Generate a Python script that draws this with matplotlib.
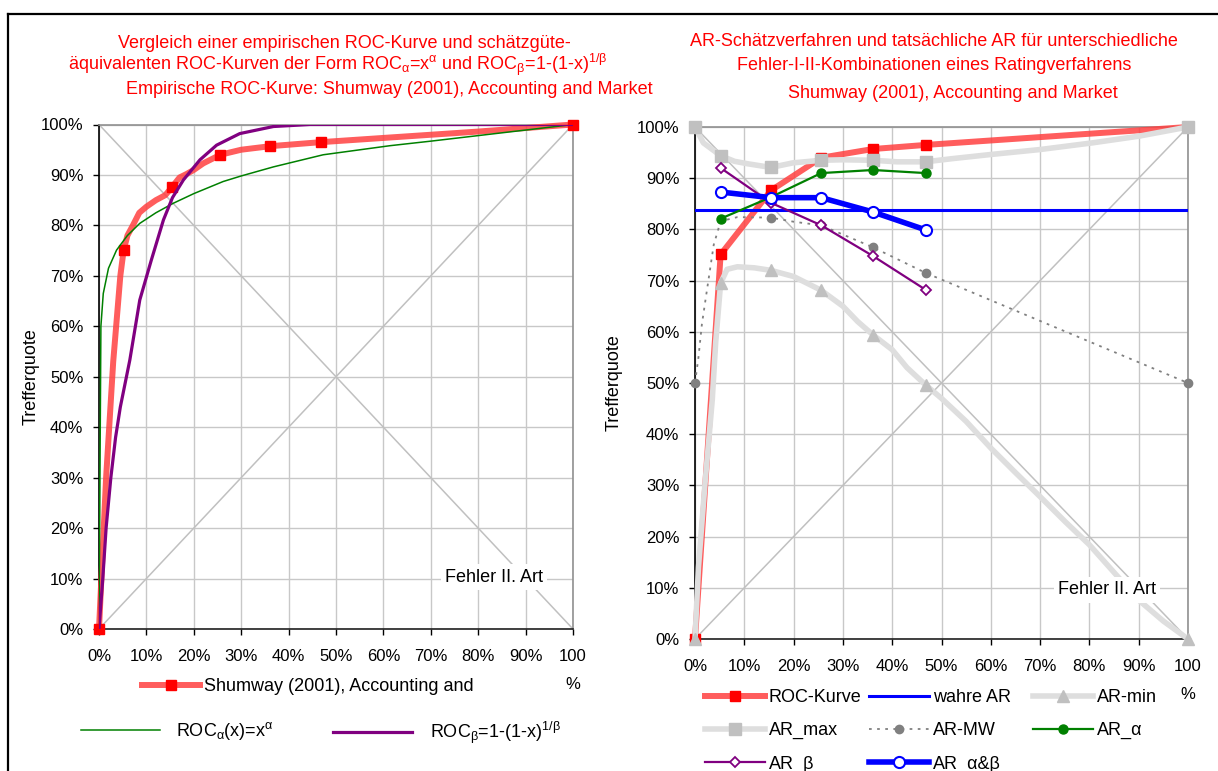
import matplotlib
matplotlib.use("Agg")
import matplotlib.pyplot as plt
from matplotlib.lines import Line2D

plt.rcParams['font.family'] = ['Liberation Sans', 'DejaVu Sans']
plt.rcParams['mathtext.fontset'] = 'custom'
plt.rcParams['mathtext.rm'] = 'Liberation Sans'
plt.rcParams['mathtext.it'] = 'Liberation Sans'
plt.rcParams['mathtext.bf'] = 'Liberation Sans:bold'

# ---- data (all in %) ----
fehler_x = [5.2, 15.4, 25.6, 36.1, 46.8]          # Fehler II. Art at the rating cut-offs
roc_y = [75.1, 87.6, 94.0, 95.7, 96.5]            # Trefferquote at the cut-offs

# empirical ROC curve (left chart)
emp_x = [0, 0.5, 1.5, 3.0, 4.5, 5.2, 6.0, 7.2, 8.5, 10.0, 12.0, 14.0, 15.4, 17.0, 18.5,
         20.0, 22.0, 25.6, 30.0, 36.1, 46.8, 61.0, 80.0, 100]
emp_y = [0, 10, 30, 53, 70, 75.1, 78, 80.1, 82.5, 83.7, 85, 86, 87.6, 89.5, 90.2,
         91, 92.3, 94.0, 95.0, 95.7, 96.5, 97.4, 98.6, 100]
emp_marks = [0, 5, 12, 17, 19, 20, 23]

alpha_x = [0, 0.2, 0.4, 0.9, 2.0, 3.7, 6.0, 8.6, 12.0, 15.7, 20.0, 26.2, 30.0, 36.8,
           47.3, 61.4, 70.0, 80.0, 90.0, 100]
alpha_y = [0, 30, 60, 66.5, 71.5, 75.1, 78.0, 80.4, 82.5, 84.4, 86.3, 88.7, 89.8, 91.6,
           94.0, 95.8, 96.7, 97.8, 98.9, 100]

beta_x = [0, 0.8, 1.5, 2.5, 3.5, 4.5, 6.5, 8.6, 11.0, 13.6, 15.5, 17.8, 21.3, 24.8,
          29.7, 36.8, 44.5, 100]
beta_y = [0, 10, 20, 30, 38, 44, 53.3, 65.2, 73.0, 81.1, 85.5, 89.0, 93.0, 95.9,
          98.2, 99.6, 100, 100]

# right chart
wahre_ar = 83.8
armin_x = [0, 0.7, 2.0, 3.5, 4.2, 5.2, 6.5, 8.6, 12.0, 15.4, 20.0, 25.6, 30.0, 33.0, 36.1,
           40.0, 43.0, 46.8, 50.0, 55.0, 60.0, 65.0, 70.0, 75.0, 80.0, 85.0, 90.0, 95.0, 100]
armin_y = [0, 14, 30, 46.7, 58, 69.5, 72.2, 72.7, 72.5, 72.0, 70.8, 68.1, 65, 62, 59.4,
           56.5, 53, 49.6, 47, 42.5, 37.3, 32.5, 27.8, 23, 18.4, 13, 7.6, 3.5, 0]
armin_marks = [0, 5, 9, 11, 14, 17, 28]

armax_x = [0, 1.7, 5.2, 8.0, 10.8, 15.4, 19.9, 25.6, 30, 36.1, 41, 46.8, 52, 59.7, 70,
           80.6, 90, 100]
armax_y = [100, 96.9, 94.4, 93.3, 92.8, 92.1, 93.0, 93.5, 93.6, 93.5, 93.2, 93.2, 93.8,
           94.6, 95.6, 96.9, 98.2, 100]
armax_marks = [0, 2, 5, 7, 9, 11, 17]

armw_x = [0, 0.7, 1.4, 2.4, 3.8, 5.2, 8.6, 15.4, 20, 25.6, 36.1, 46.8, 100]
armw_y = [50, 55, 61.5, 68, 77, 81.6, 82.4, 82.3, 81.5, 80.8, 76.5, 71.5, 50]
armw_marks = [0, 7, 9, 10, 11, 12]

ar_alpha = [82.1, 86.3, 91.0, 91.6, 91.0]
ar_beta = [92.0, 85.2, 80.8, 74.8, 68.2]
ar_ab = [87.3, 86.2, 86.2, 83.4, 79.9]

ticks = list(range(0, 101, 10))
xticklabels = [f"{t}%" for t in ticks[:-1]] + ["100\n%"]
yticklabels = [f"{t}%" for t in ticks]

W, H = 1218, 771
FS = 12      # tick labels
FS_T = 13    # titles, legend, notes
fig = plt.figure(figsize=(W / 100, H / 100), dpi=100)

RED_LINE = (1.0, 0.25, 0.25, 0.85)


def style_axes(ax, label_x):
    ax.set_xlim(0, 100)
    ax.set_ylim(0, 100)
    ax.set_xticks(ticks)
    ax.set_yticks(ticks)
    ax.set_xticklabels(xticklabels, fontsize=FS, linespacing=2.1)
    ax.set_yticklabels(yticklabels, fontsize=FS)
    ax.tick_params(axis='y', direction='out', length=4.3, width=1, pad=7)
    ax.tick_params(axis='x', direction='out', length=4.3, width=1, pad=10)
    ax.grid(True, color='#c8c8c8', linewidth=1)
    ax.set_axisbelow(True)
    ax.spines['left'].set_color('black')
    ax.spines['bottom'].set_color('#202020')
    ax.spines['top'].set_color('#909090')
    ax.spines['right'].set_color('#909090')
    for s in ax.spines.values():
        s.set_linewidth(1.2)
    # both diagonals
    ax.plot([0, 100], [100, 0], color='#c0c0c0', lw=1.1, zorder=1)
    ax.plot([0, 100], [0, 100], color='#c0c0c0', lw=1.1, zorder=1)
    ax.set_ylabel('Trefferquote', fontsize=FS_T)
    ax.yaxis.set_label_coords(label_x, 0.5)


# ---------------- left chart ----------------
ax1 = fig.add_axes([99 / W, 1 - 629 / H, 474 / W, 504.5 / H])
style_axes(ax1, (40 - 99) / 474)
l_emp, = ax1.plot(emp_x, emp_y, color=RED_LINE, lw=4.3, marker='s', ms=7,
                  mfc='red', mec='red', markevery=emp_marks, zorder=3, clip_on=False,
                  label='Shumway (2001), Accounting and')
l_alpha, = ax1.plot(alpha_x, alpha_y, color='#008000', lw=1.1, zorder=4,
                    label=r'ROC$_{\alpha}$(x)=x$^{\alpha}$')
l_beta, = ax1.plot(beta_x, beta_y, color='#800080', lw=2.3, zorder=4,
                   label=r'ROC$_{\beta}$=1-(1-x)$^{1/\beta}$')
ax1.text(83.3, 10.3, 'Fehler II. Art', fontsize=FS_T, ha='center', va='center',
         bbox=dict(facecolor='white', edgecolor='none', pad=3), zorder=5)

# ---------------- right chart ----------------
ax2 = fig.add_axes([695 / W, 1 - 639 / H, 493 / W, 512 / H])
style_axes(ax2, (623 - 695) / 493)
h_roc, = ax2.plot([0] + fehler_x + [100], [0] + roc_y + [100], color=RED_LINE, lw=4.3,
                  marker='s', ms=7, mfc='red', mec='red', zorder=3, clip_on=False,
                  label='ROC-Kurve')
h_true = ax2.axhline(wahre_ar, color='#0000ff', lw=2.2, zorder=3, label='wahre AR')
h_min, = ax2.plot(armin_x, armin_y, color='#dedede', lw=4, marker='^', ms=8,
                  mfc='#c0c0c0', mec='#c0c0c0', markevery=armin_marks, zorder=3,
                  clip_on=False, label='AR-min')
h_max, = ax2.plot(armax_x, armax_y, color='#dedede', lw=4, marker='s', ms=8,
                  mfc='#c0c0c0', mec='#c0c0c0', markevery=armax_marks, zorder=4,
                  clip_on=False, label='AR_max')
h_mw, = ax2.plot(armw_x, armw_y, color='#808080', lw=1.3, ls=(0, (1.5, 3)), marker='o',
                 ms=6, mfc='#808080', mec='#808080', markevery=armw_marks, zorder=4,
                 clip_on=False, label='AR-MW')
h_a, = ax2.plot(fehler_x, ar_alpha, color='#008000', lw=1.6, marker='o', ms=6.5,
                mfc='#008000', mec='#008000', zorder=5, label='AR_α')
h_b, = ax2.plot(fehler_x, ar_beta, color='#800080', lw=1.6, marker='D', ms=5.5,
                mfc='white', mec='#800080', mew=1.3, zorder=5, label='AR_β')
h_ab, = ax2.plot(fehler_x, ar_ab, color='#0000ff', lw=4, marker='o', ms=8,
                 mfc='white', mec='#0000ff', mew=1.5, zorder=6, label='AR_α&β')
ax2.text(83.6, 9.6, 'Fehler II. Art', fontsize=FS_T, ha='center', va='center',
         bbox=dict(facecolor='white', edgecolor='none', pad=3), zorder=7)

# ---------------- titles ----------------
red = '#ff0000'
title_lines = [
    (344, 43, 'Vergleich einer empirischen ROC-Kurve und schätzgüte-'),
    (338, 65, r'äquivalenten ROC-Kurven der Form ROC$_{\alpha}$=x$^{\alpha}$ und '
              r'ROC$_{\beta}$=1-(1-x)$^{1/\beta}$'),
    (389, 90, 'Empirische ROC-Kurve: Shumway (2001), Accounting and Market'),
    (934, 42, 'AR-Schätzverfahren und tatsächliche AR für unterschiedliche'),
    (934, 66, 'Fehler-I-II-Kombinationen eines Ratingverfahrens'),
    (953, 93, 'Shumway (2001), Accounting and Market'),
]
for px, py, txt in title_lines:
    fig.text(px / W, 1 - py / H, txt, color=red, fontsize=FS_T, ha='center', va='center')

# ---------------- legends ----------------
leg_kw = dict(frameon=False, fontsize=FS_T, borderaxespad=0, borderpad=0)


def add_legend(handles, x, y, hl, pad, ls=0.9):
    fig.legend(handles=handles, loc='upper left', bbox_to_anchor=(x / W, 1 - y / H),
               handlelength=hl, handletextpad=pad, labelspacing=ls, **leg_kw)


add_legend([l_emp], 142, 678, 3.2, 0.25)
add_legend([l_alpha], 81, 720, 4.4, 0.85)
add_legend([l_beta], 333, 720, 4.4, 0.95)

# right chart legend: three equal-width columns, filled row by row
add_legend([h_roc, h_max, h_b], 705, 689, 3.3, 0.22)
add_legend([h_true, h_mw, h_ab], 869, 689, 3.3, 0.22)
add_legend([h_min, h_a], 1033, 689, 3.3, 0.22)

# chart frame lines (top and left border)
fig.add_artist(Line2D([8 / W, 1], [1 - 14 / H, 1 - 14 / H], color='black', lw=1.6,
                      transform=fig.transFigure))
fig.add_artist(Line2D([8 / W, 8 / W], [0, 1 - 14 / H], color='black', lw=1.6,
                      transform=fig.transFigure))

fig.savefig('out.png', dpi=100)
